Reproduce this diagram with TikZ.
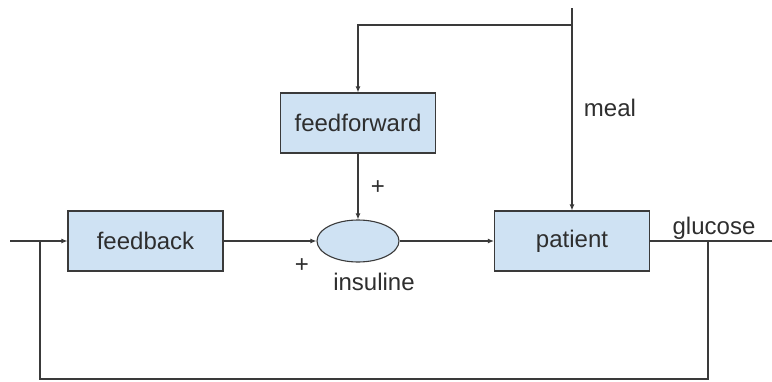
\documentclass[tikz,border=0pt]{standalone}
\usepackage{fontspec}
\setmainfont{Liberation Sans}
\usetikzlibrary{arrows.meta,shapes.geometric}
\definecolor{boxfill}{HTML}{CFE2F3}
\definecolor{edgecol}{HTML}{3A3A3A}
\definecolor{txtcol}{HTML}{2E2E2E}
\begin{document}
\begin{tikzpicture}[x=1pt,y=-1pt]
\tikzset{
  blk/.style={draw=edgecol, line width=1.1pt, fill=boxfill, minimum width=155pt, minimum height=60pt, inner sep=0pt, font=\fontsize{24}{28}\selectfont, text=txtcol},
  sumnode/.style={ellipse, draw=edgecol, line width=1.1pt, fill=boxfill, minimum width=82pt, minimum height=42pt, inner sep=0pt},
  lbl/.style={font=\fontsize{24}{28}\selectfont, text=txtcol, inner sep=0pt},
  wire/.style={draw=edgecol, line width=1.1pt},
  arr/.style={wire, -{Latex[length=6pt,width=5pt]}}
}
\useasboundingbox (0,0) rectangle (772,381);
\node[blk] (fb) at (145.5,241) {feedback};
\node[blk] (ff) at (358,123) {feedforward};
\node[blk] (pt) at (572,241) {patient};
\node[sumnode] (sum) at (358,241) {};
\coordinate (in) at (10,241);
\coordinate (split) at (40,241);
\coordinate (bl) at (40,379);
\coordinate (br) at (708,379);
\coordinate (tap) at (708,241);
\coordinate (out) at (772,241);
\coordinate (mealtop) at (572,8);
\coordinate (mealturn) at (572,25);
\node[lbl] (meal) at (610,108) {meal};
\node[lbl] (glu) at (714,228) {glucose};
\node[lbl] (ins) at (374,282) {insuline};
\node[lbl] (p1) at (378,188) {+};
\node[lbl] (p2) at (302,266) {+};
\draw[arr] (in) -- (fb.west);
\draw[wire] (split) -- (bl) -- (br) -- (tap);
\draw[arr] (fb.east) -- (sum.west);
\draw[arr] (sum.east) -- (pt.west);
\draw[wire] (pt.east) -- (out);
\draw[arr] (mealtop) -- (pt.north);
\draw[arr] (mealturn) -| (ff.north);
\draw[arr] (ff.south) -- (sum.north);
\end{tikzpicture}
\end{document}
